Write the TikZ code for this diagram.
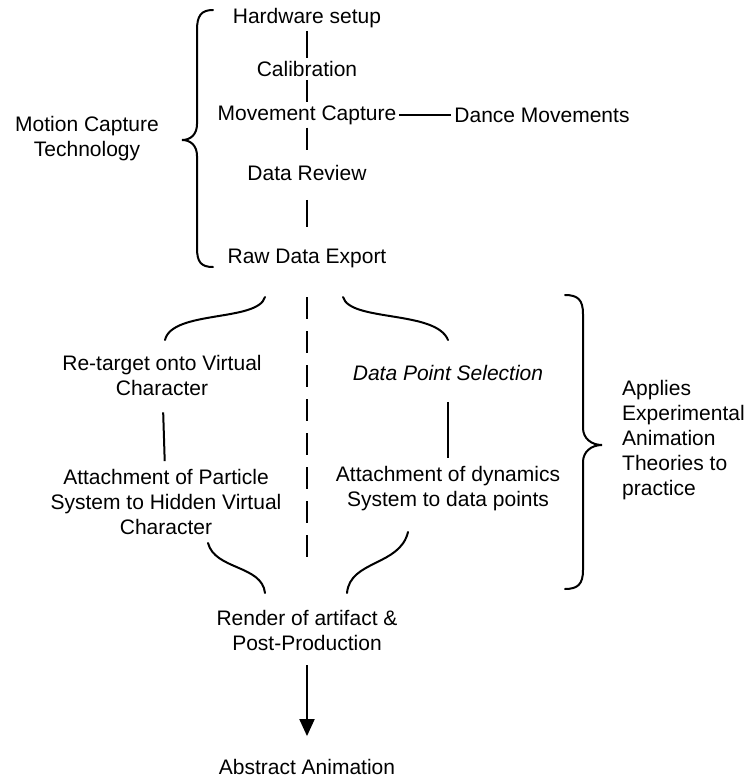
\documentclass[tikz,border=0pt]{standalone}
\usepackage{fontspec}
\setmainfont{Liberation Sans}
\usetikzlibrary{arrows.meta, positioning}

\begin{document}
\begin{tikzpicture}[
            x=1pt, y=-1pt,
            every node/.style={font=\fontsize{21}{25}\selectfont, inner sep=3pt, align=center},
            link/.style={line width=2pt},
            curly/.style={line width=2pt, line cap=round},
            >={Triangle[length=17pt, width=15pt]}]

        \useasboundingbox (0,0) rectangle (747,782);

        % capture stages
        \node (hw) at (307,18) {Hardware setup};
        \node (cal) at (307,69) {Calibration};
        \node (move) at (307,115) {Movement Capture};
        \node (dance) at (542,115) {Dance Movements};
        \node (review) at (307,173) {Data Review};
        \node (raw) at (307,258) {Raw Data Export};
        \node (mocap) at (87,139) {Motion Capture\\Technology};

        \draw[link] (hw) -- (cal);
        \draw[link] (cal) -- (move);
        \draw[link, shorten >=12pt] (move) -- (review);
        \draw[link, shorten <=16pt, shorten >=18pt] (review) -- (raw);
        \draw[link] (move) -- (dance);

        \draw[curly] (213,10) .. controls (201,10) and (197,16) .. (197,30) -- (197,124)
            .. controls (197,134) and (191,140) .. (182,140)
            .. controls (191,140) and (197,146) .. (197,156) -- (197,248)
            .. controls (197,262) and (201,267) .. (213,267);

        % two branches
        \node (retarget) at (162,375) {Re-target onto Virtual\\Character};
        \node (particle) at (166,502) {Attachment of Particle\\System to Hidden Virtual\\Character};
        \node (select) at (448,373) {\itshape Data Point Selection};
        \node (dynamics) at (448,489) {Attachment of dynamics\\System to data points};

        \draw[link, shorten <=14pt, shorten >=5pt] (retarget) -- (particle);
        \draw[link, shorten <=18pt, shorten >=6pt] (select) -- (dynamics);

        \draw[curly] (265,297) .. controls (258,322) and (172,310) .. (165,340);
        \draw[curly] (343,297) .. controls (350,322) and (436,310) .. (448,340);
        \draw[curly] (208,543) .. controls (215,570) and (262,565) .. (265,593);
        \draw[curly] (408,532) .. controls (400,566) and (350,560) .. (347,593);

        \coordinate (dtop) at (307,297);
        \coordinate (dbot) at (307,567);
        \draw[link, dash pattern=on 22pt off 12pt] (dtop) -- (dbot);

        \draw[curly] (565,295) .. controls (578,295) and (583,300) .. (583,314) -- (583,428)
            .. controls (583,438) and (591,445) .. (602,445)
            .. controls (591,445) and (583,452) .. (583,462) -- (583,570)
            .. controls (583,584) and (578,589) .. (565,589);
        \node[anchor=west, align=left] (theory) at (619,440) {Applies\\Experimental\\Animation\\Theories to\\practice};

        % output
        \node (render) at (307,630) {Render of artifact \&\\Post-Production};
        \node (result) at (307,767) {Abstract Animation};
        \draw[link, ->, shorten <=12pt, shorten >=20pt] (render) -- (result);

    \end{tikzpicture}
\end{document}
